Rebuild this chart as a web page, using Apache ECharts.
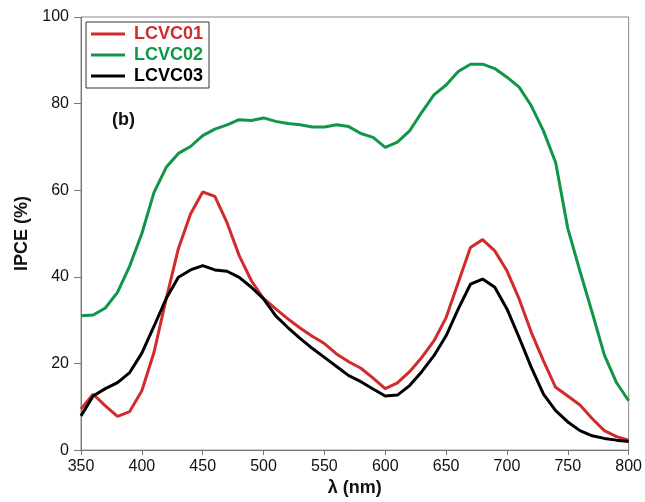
<!DOCTYPE html>
<html>
<head>
<meta charset="utf-8">
<script src="https://cdn.jsdelivr.net/npm/echarts@6/dist/echarts.min.js"></script>
<style>html,body{margin:0;padding:0;background:#fff}#c{width:645px;height:502px}</style>
</head>
<body>
<div id="c"></div>
<script>
const wavelengths = [350,360,370,380,390,400,410,420,430,440,450,460,470,480,490,500,510,520,530,540,550,560,570,580,590,600,610,620,630,640,650,660,670,680,690,700,710,720,730,740,750,760,770,780,790,800];
const lcvc01 = [9.5,12.9,10.2,7.8,8.9,13.7,22.6,34.9,46.5,54.5,59.6,58.6,52.5,44.9,39.1,35.0,32.6,30.3,28.2,26.3,24.6,22.2,20.4,18.9,16.6,14.2,15.5,18.1,21.4,25.2,30.6,38.7,46.8,48.6,46.0,41.4,34.9,27.2,20.6,14.5,12.5,10.4,7.3,4.5,3.1,2.3];
const lcvc02 = [31.0,31.2,32.8,36.4,42.5,50.0,59.5,65.3,68.5,70.1,72.6,74.1,75.1,76.3,76.1,76.7,75.9,75.4,75.1,74.6,74.6,75.1,74.7,73.1,72.2,69.9,71.1,73.7,78.0,82.0,84.3,87.4,89.1,89.1,88.1,86.1,83.8,79.5,73.7,66.4,51.2,41.3,31.8,22.0,15.6,11.4];
const lcvc03 = [7.9,12.5,14.2,15.6,17.9,22.4,28.6,35.0,39.9,41.6,42.6,41.6,41.3,39.9,37.6,34.9,31.0,28.3,25.8,23.5,21.4,19.3,17.2,15.8,14.1,12.5,12.7,14.9,18.1,21.8,26.4,32.6,38.3,39.5,37.6,32.6,26.0,19.1,12.9,9.1,6.5,4.5,3.3,2.7,2.3,2.0];
const seriesNames = ['LCVC01','LCVC02','LCVC03'];
const seriesColors = ['#d22b2b','#0f9646','#000000'];
const xTitle = 'λ (nm)';
const yTitle = 'IPCE (%)';
const panelLabel = '(b)';

const allData = [lcvc01, lcvc02, lcvc03];
const chart = echarts.init(document.getElementById('c'), null, {renderer:'canvas'});
const fontFam = '"Liberation Sans", Arial, sans-serif';
chart.setOption({
  animation:false,
  backgroundColor:'#fff',
  grid:{left:81, right:12, top:17, bottom:50, show:true, borderColor:'#888', borderWidth:1, backgroundColor:'transparent'},
  legend:{
    left:86, top:22, orient:'vertical', itemWidth:34, itemHeight:3, itemGap:3,
    borderColor:'#333', borderWidth:1, padding:[3,6,3,5],
    icon:'rect',
    data: seriesNames.map((n,i)=>({name:n, textStyle:{color:seriesColors[i]}})),
    textStyle:{fontFamily:fontFam, fontWeight:'bold', fontSize:18, padding:[0,0,0,4]}
  },
  graphic:[{type:'text', left:112, top:111, style:{text:panelLabel, font:'bold 18px "Liberation Sans", Arial, sans-serif', fill:'#111'}}],
  xAxis:{
    type:'value', min:350, max:800, interval:50,
    name:xTitle, nameLocation:'middle', nameGap:27,
    nameTextStyle:{fontFamily:fontFam, fontWeight:'bold', fontSize:18, color:'#111'},
    axisLine:{lineStyle:{color:'#777', width:1}},
    axisTick:{inside:false, length:5, lineStyle:{color:'#777'}},
    axisLabel:{fontFamily:fontFam, fontSize:16, color:'#111', margin:8},
    splitLine:{show:false}
  },
  yAxis:{
    type:'value', min:0, max:100, interval:20,
    name:yTitle, nameLocation:'middle', nameGap:45, nameRotate:90,
    nameTextStyle:{fontFamily:fontFam, fontWeight:'bold', fontSize:18, color:'#111'},
    axisLine:{show:true, lineStyle:{color:'#777', width:1}},
    axisTick:{show:true, length:7, lineStyle:{color:'#777'}},
    axisLabel:{fontFamily:fontFam, fontSize:16, color:'#111', margin:12},
    splitLine:{show:false}
  },
  series: seriesNames.map((n,i)=>({
    name:n, type:'line', symbol:'none', smooth:false,
    data: wavelengths.map((w,j)=>[w, allData[i][j]]),
    lineStyle:{color:seriesColors[i], width:3},
    itemStyle:{color:seriesColors[i]}
  }))
});
</script>
</body>
</html>
